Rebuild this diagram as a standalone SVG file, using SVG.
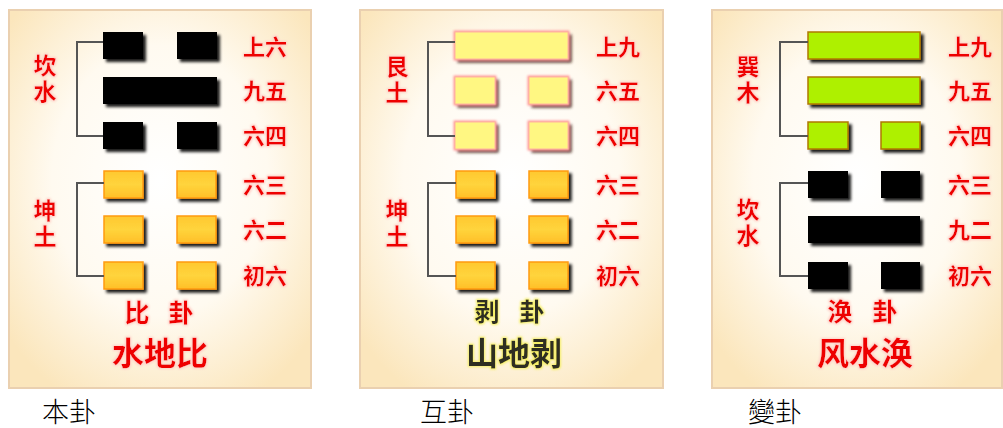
<svg xmlns="http://www.w3.org/2000/svg" width="1003" height="428" viewBox="0 0 1003 428">
<defs>
<radialGradient id="bg" cx="0.5" cy="0.45" r="0.65">
<stop offset="0" stop-color="#ffffff"/>
<stop offset="0.55" stop-color="#fffaf0"/>
<stop offset="1" stop-color="#fbe6bc"/>
</radialGradient>
<linearGradient id="org" x1="0" y1="0" x2="0" y2="1">
<stop offset="0" stop-color="#ffc830"/>
<stop offset="0.5" stop-color="#ffd43c"/>
<stop offset="1" stop-color="#ffbf28"/>
</linearGradient>
<filter id="sh" x="-20%" y="-30%" width="150%" height="180%">
<feGaussianBlur in="SourceAlpha" stdDeviation="1.6" result="b"/>
<feOffset in="b" dx="3" dy="3" result="o"/>
<feComponentTransfer in="o" result="s"><feFuncA type="linear" slope="0.9"/></feComponentTransfer>
<feMerge><feMergeNode in="s"/><feMergeNode in="SourceGraphic"/></feMerge>
</filter>
<filter id="glowP" x="-20%" y="-30%" width="150%" height="180%">
<feGaussianBlur in="SourceAlpha" stdDeviation="1.6" result="b"/>
<feOffset in="b" dx="3" dy="3" result="o"/>
<feFlood flood-color="#3a1a00" result="c"/>
<feComposite in="c" in2="o" operator="in" result="s"/>
<feMorphology in="SourceAlpha" operator="dilate" radius="1" result="d"/>
<feGaussianBlur in="d" stdDeviation="0.8" result="db"/>
<feFlood flood-color="#ff9a9a" result="pc"/>
<feComposite in="pc" in2="db" operator="in" result="g"/>
<feMerge><feMergeNode in="s"/><feMergeNode in="g"/><feMergeNode in="SourceGraphic"/></feMerge>
</filter>
<filter id="tr" x="-30%" y="-30%" width="160%" height="160%">
<feMorphology in="SourceAlpha" operator="dilate" radius="1" result="d"/>
<feGaussianBlur in="d" stdDeviation="1.2" result="b"/>
<feFlood flood-color="#ffd0c8" result="c"/>
<feComposite in="c" in2="b" operator="in" result="g"/>
<feMerge><feMergeNode in="g"/><feMergeNode in="SourceGraphic"/></feMerge>
</filter>
<filter id="ty" x="-30%" y="-30%" width="160%" height="160%">
<feMorphology in="SourceAlpha" operator="dilate" radius="0.8" result="d"/>
<feGaussianBlur in="d" stdDeviation="1.3" result="b"/>
<feFlood flood-color="#f4ee50" flood-opacity="0.85" result="c"/>
<feComposite in="c" in2="b" operator="in" result="g"/>
<feMerge><feMergeNode in="g"/><feMergeNode in="SourceGraphic"/></feMerge>
</filter>
</defs>
<style>
.panel{fill:url(#bg);stroke:#ead0b0;stroke-width:2}
.blk{fill:#000;filter:url(#sh)}
.org{fill:url(#org);stroke:#ff9a10;stroke-width:1.5;filter:url(#sh)}
.pale{fill:#fff782;stroke:#ffb4a0;stroke-width:1;filter:url(#glowP)}
.grn{fill:#aef000;stroke:#b07800;stroke-width:1.5;filter:url(#sh)}
.br{fill:none;stroke:#555;stroke-width:2}
.tri{font-family:"Noto Sans CJK SC","Noto Sans CJK TC",sans-serif;font-size:23px;font-weight:700;fill:#ee0000;writing-mode:vertical-rl;letter-spacing:3px;filter:url(#tr)}
.yao{font-family:"Noto Sans CJK SC","Noto Sans CJK TC",sans-serif;font-size:22px;font-weight:700;fill:#ee0000;text-anchor:middle;filter:url(#tr)}
.gua{font-family:"Noto Sans CJK SC","Noto Sans CJK TC",sans-serif;font-size:25px;font-weight:700;fill:#ee0000;text-anchor:middle;filter:url(#tr)}
.name{font-family:"Noto Sans CJK SC","Noto Sans CJK TC",sans-serif;font-size:32px;font-weight:700;fill:#ee0000;text-anchor:middle;filter:url(#tr)}
.dk{fill:#2e2e24;filter:url(#ty)}
.cap{font-family:"Noto Sans CJK TC","Noto Sans CJK SC",sans-serif;font-size:27px;font-weight:300;fill:#000}
</style>

<g id="panel-bengua">
<rect class="panel" x="9" y="10" width="302" height="378"/>
<g id="bengua-lines">
<rect class="blk" x="103" y="32" width="40" height="27"/>
<rect class="blk" x="177" y="32" width="40" height="27"/>
<rect class="blk" x="103" y="77" width="114" height="27"/>
<rect class="blk" x="103" y="122" width="40" height="27"/>
<rect class="blk" x="177" y="122" width="40" height="27"/>
<rect class="org" x="104" y="171" width="39" height="27"/>
<rect class="org" x="177" y="171" width="39" height="27"/>
<rect class="org" x="104" y="216" width="39" height="27"/>
<rect class="org" x="177" y="216" width="39" height="27"/>
<rect class="org" x="104" y="262" width="39" height="27"/>
<rect class="org" x="177" y="262" width="39" height="27"/>
</g>
<text class="tri" x="45" y="54">坎水</text>
<text class="tri" x="45" y="199">坤土</text>
<text class="yao" x="265" y="55">上六</text>
<text class="yao" x="265" y="99">九五</text>
<text class="yao" x="265" y="144">六四</text>
<text class="yao" x="265" y="193">六三</text>
<text class="yao" x="265" y="238">六二</text>
<text class="yao" x="265" y="284">初六</text>
<text class="gua" x="137" y="322">比</text>
<text class="gua" x="181" y="322">卦</text>
<text class="name" x="160" y="365">水地比</text>
</g>

<g id="panel-hugua">
<rect class="panel" x="360" y="10" width="303" height="378"/>
<g id="hugua-lines">
<rect class="pale" x="455" y="32" width="113" height="27"/>
<rect class="pale" x="455" y="77" width="40" height="27"/>
<rect class="pale" x="529" y="77" width="39" height="27"/>
<rect class="pale" x="455" y="122" width="40" height="27"/>
<rect class="pale" x="529" y="122" width="39" height="27"/>
<rect class="org" x="456" y="171" width="39" height="27"/>
<rect class="org" x="529" y="171" width="39" height="27"/>
<rect class="org" x="456" y="216" width="39" height="27"/>
<rect class="org" x="529" y="216" width="39" height="27"/>
<rect class="org" x="456" y="262" width="39" height="27"/>
<rect class="org" x="529" y="262" width="39" height="27"/>
</g>
<text class="tri" x="397" y="55">艮土</text>
<text class="tri" x="397" y="199">坤土</text>
<text class="yao" x="618" y="55">上九</text>
<text class="yao" x="618" y="99">六五</text>
<text class="yao" x="618" y="144">六四</text>
<text class="yao" x="618" y="193">六三</text>
<text class="yao" x="618" y="238">六二</text>
<text class="yao" x="618" y="284">初六</text>
<text class="gua dk" x="487" y="321">剥</text>
<text class="gua dk" x="532" y="321">卦</text>
<text class="name dk" x="514" y="365">山地剥</text>
</g>

<g id="panel-biangua">
<rect class="panel" x="712" y="10" width="290" height="378"/>
<g id="biangua-lines">
<rect class="grn" x="808" y="32" width="112" height="27"/>
<rect class="grn" x="808" y="77" width="112" height="27"/>
<rect class="grn" x="808" y="122" width="40" height="27"/>
<rect class="grn" x="881" y="122" width="39" height="27"/>
<rect class="blk" x="808" y="171" width="40" height="27"/>
<rect class="blk" x="881" y="171" width="39" height="27"/>
<rect class="blk" x="808" y="216" width="112" height="27"/>
<rect class="blk" x="808" y="262" width="40" height="27"/>
<rect class="blk" x="881" y="262" width="39" height="27"/>
</g>
<text class="tri" x="748" y="55">巽木</text>
<text class="tri" x="748" y="198">坎水</text>
<text class="yao" x="970" y="55">上九</text>
<text class="yao" x="970" y="99">九五</text>
<text class="yao" x="970" y="144">六四</text>
<text class="yao" x="970" y="193">六三</text>
<text class="yao" x="970" y="238">九二</text>
<text class="yao" x="970" y="284">初六</text>
<text class="gua" x="840" y="321">涣</text>
<text class="gua" x="885" y="321">卦</text>
<text class="name" x="865" y="365">风水涣</text>
</g>

<g id="connectors">
<polyline class="br" points="103,42 77,42 77,136 103,136"/>
<polyline class="br" points="104,183 77,183 77,276 104,276"/>
<polyline class="br" points="455,42 428,42 428,136 455,136"/>
<polyline class="br" points="456,183 428,183 428,276 456,276"/>
<polyline class="br" points="808,42 780,42 780,136 808,136"/>
<polyline class="br" points="808,183 780,183 780,276 808,276"/>
</g>

<g id="captions">
<text class="cap" x="42" y="422">本卦</text>
<text class="cap" x="420" y="422">互卦</text>
<text class="cap" x="748" y="422">變卦</text>
</g>
</svg>
